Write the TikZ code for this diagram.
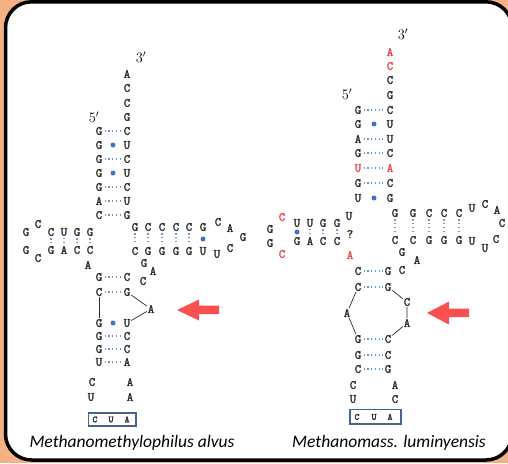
\documentclass[tikz,border=0pt]{standalone}
\usepackage{fontspec}
\newfontfamily\labfont{Carlito}
\newfontfamily\ntfont{Latin Modern Mono}[FakeBold=2]
\usetikzlibrary{calc}
\definecolor{bgorange}{RGB}{244,177,131}
\definecolor{ntgray}{RGB}{45,45,45}
\definecolor{ntred}{RGB}{235,70,80}
\definecolor{pairblue}{RGB}{100,155,215}
\definecolor{wobblue}{RGB}{68,114,196}
\definecolor{boxblue}{RGB}{70,100,140}
\definecolor{arrowred}{RGB}{250,80,80}
\tikzset{
  nt/.style={inner sep=0.8pt, text=ntgray, font=\ntfont\fontsize{12.5}{12.5}\selectfont},
  ntr/.style={nt, text=ntred},
  pd/.style={draw=pairblue, line width=1.2pt, dash pattern=on 1.1pt off 2.6pt, shorten <=1.5pt, shorten >=1.5pt},
  wb/.style={fill=wobblue},
  loopline/.style={draw=ntgray, line width=0.7pt},
  acbox/.style={draw=boxblue, line width=1.1pt},
  boxnt/.style={inner sep=0pt, text=ntgray, font=\ntfont\fontsize{9.5}{10}\selectfont},
  endlab/.style={inner sep=0pt, font=\fontsize{14}{14}\selectfont},
  spec/.style={inner sep=0pt, font=\labfont\itshape\fontsize{17.5}{18}\selectfont},
  redarrow/.style={fill=arrowred}
}
\newcommand\nuc[4]{\node[nt] (#1) at (#2,#3) {#4};}
\newcommand\nucr[4]{\node[ntr] (#1) at (#2,#3) {#4};}
\newcommand\pdot[2]{\draw[pd] (#1) -- (#2);}
\newcommand\pwob[2]{\fill[wb] ($(#1)!0.5!(#2)$) circle (2.5);}
\begin{document}
\begin{tikzpicture}[x=1pt,y=-1pt]
\useasboundingbox (0,0) rectangle (508,463);
\clip (0,0) rectangle (508,463);
\fill[bgorange] (0,0) rectangle (508,463);
\draw[line width=3.5pt, fill=white, rounded corners=26pt] (5.5,1.8) rectangle (512,460);

% ================= LEFT =================
\node[endlab] (L3p) at (141,57) {$3'$};
\node[endlab] (L5p) at (94,117) {$5'$};
\nuc{La1}{127}{74}{A}
\nuc{La2}{127}{88}{C}
\nuc{La3}{127}{103}{C}
\nuc{La4}{127}{117}{G}
% acceptor stem
\nuc{Ll1}{99}{131}{G} \nuc{Lr1}{127}{131}{C}
\nuc{Ll2}{99}{145}{G} \nuc{Lr2}{127}{145}{U}
\nuc{Ll3}{99}{159}{G} \nuc{Lr3}{127}{159}{C}
\nuc{Ll4}{99}{173}{G} \nuc{Lr4}{127}{173}{U}
\nuc{Ll5}{99}{187}{G} \nuc{Lr5}{127}{187}{C}
\nuc{Ll6}{99}{201}{A} \nuc{Lr6}{127}{201}{U}
\nuc{Ll7}{99}{215}{C} \nuc{Lr7}{127}{215}{G}
\pdot{Ll1}{Lr1} \pwob{Ll2}{Lr2} \pdot{Ll3}{Lr3} \pwob{Ll4}{Lr4}
\pdot{Ll5}{Lr5} \pdot{Ll6}{Lr6} \pdot{Ll7}{Lr7}
% D arm
\nuc{Ld1}{26}{232}{G} \nuc{Ld2}{38}{224}{C} \nuc{Ld3}{51}{232}{C}
\nuc{Ld4}{64}{232}{U} \nuc{Ld5}{77}{232}{G} \nuc{Ld6}{90}{232}{G}
\nuc{Le1}{26}{250}{G} \nuc{Le2}{38}{258}{C} \nuc{Le3}{51}{250}{G}
\nuc{Le4}{64}{250}{A} \nuc{Le5}{77}{250}{C} \nuc{Le6}{90}{250}{C}
\nuc{Le7}{88}{265}{A}
\pdot{Ld3}{Le3} \pdot{Ld4}{Le4} \pdot{Ld5}{Le5} \pdot{Ld6}{Le6}
% T arm
\nuc{Lt1}{135}{227}{G} \nuc{Lt2}{148}{227}{C} \nuc{Lt3}{162}{227}{C}
\nuc{Lt4}{176}{227}{C} \nuc{Lt5}{189}{227}{C} \nuc{Lt6}{203}{227}{G}
\nuc{Lt7}{218}{222}{C} \nuc{Lt8}{230}{228}{A} \nuc{Lt9}{243}{237}{G}
\nuc{Lu1}{135}{251}{C} \nuc{Lu2}{148}{251}{G} \nuc{Lu3}{162}{251}{G}
\nuc{Lu4}{176}{251}{G} \nuc{Lu5}{189}{251}{G} \nuc{Lu6}{203}{251}{U}
\nuc{Lu7}{217}{254}{U} \nuc{Lu8}{230}{248}{C}
\pdot{Lt1}{Lu1} \pdot{Lt2}{Lu2} \pdot{Lt3}{Lu3} \pdot{Lt4}{Lu4} \pdot{Lt5}{Lu5}
\pwob{Lt6}{Lu6}
% variable loop
\nuc{Lv1}{144}{263}{G} \nuc{Lv2}{153}{271}{A} \nuc{Lv3}{143}{281}{C}
% anticodon stem
\nuc{Lc1}{99}{277}{G} \nuc{Lk1}{127}{277}{C}
\nuc{Lc2}{99}{292}{C} \nuc{Lk2}{127}{292}{G}
\pdot{Lc1}{Lk1} \pdot{Lc2}{Lk2}
\nuc{Lbul}{151}{309}{A}
\nuc{Lc3}{99}{323}{G} \nuc{Lk3}{127}{323}{U}
\nuc{Lc4}{99}{336}{G} \nuc{Lk4}{127}{336}{C}
\nuc{Lc5}{99}{349}{G} \nuc{Lk5}{127}{349}{C}
\nuc{Lc6}{99}{362}{U} \nuc{Lk6}{127}{362}{A}
\pwob{Lc3}{Lk3} \pdot{Lc4}{Lk4} \pdot{Lc5}{Lk5} \pdot{Lc6}{Lk6}
\draw[loopline] (Lc2) -- (Lc3);
\draw[loopline] (Lk2) -- (Lbul) -- (Lk3);
\nuc{Lo1}{92}{382}{C} \nuc{Lo2}{130}{382}{A}
\nuc{Lo3}{91}{397}{U} \nuc{Lo4}{130}{397}{A}
\draw[acbox] (88.5,413) rectangle (136,426);
\node[boxnt] (Lac1) at (95,419.5) {C};
\node[boxnt] (Lac2) at (111,419.5) {U};
\node[boxnt] (Lac3) at (127,419.5) {A};
\fill[redarrow] (177,310) -- (199,299.5) -- (199,305.5) -- (219,305.5) -- (219,314) -- (199,314) -- (199,320.5) -- cycle;
\node[spec] (Lname) at (132,443) {Methanomethylophilus alvus};

% ================= RIGHT =================
\node[endlab] (R3p) at (403,34) {$3'$};
\node[endlab] (R5p) at (347,94) {$5'$};
\nucr{Ra1}{390}{52}{A}
\nucr{Ra2}{390}{66}{C}
\nuc{Ra3}{390}{80}{C}
\nuc{Ra4}{390}{95}{G}
\nuc{Rl1}{358}{110}{G} \nuc{Rr1}{390}{110}{C}
\nuc{Rl2}{358}{124}{G} \nuc{Rr2}{390}{124}{U}
\nuc{Rl3}{358}{139}{A} \nuc{Rr3}{390}{139}{U}
\nuc{Rl4}{358}{153}{G} \nuc{Rr4}{390}{153}{C}
\nucr{Rl5}{358}{168}{U} \nucr{Rr5}{390}{168}{A}
\nuc{Rl6}{358}{183}{G} \nuc{Rr6}{390}{183}{C}
\nuc{Rl7}{358}{198}{U} \nuc{Rr7}{390}{198}{G}
\pdot{Rl1}{Rr1} \pwob{Rl2}{Rr2} \pdot{Rl3}{Rr3} \pdot{Rl4}{Rr4}
\pdot{Rl5}{Rr5} \pdot{Rl6}{Rr6} \pwob{Rl7}{Rr7}
% D arm
\nuc{Rd1}{270}{229}{G} \nucr{Rd2}{282}{217}{C} \nuc{Rd3}{297}{223}{U}
\nuc{Rd4}{310}{223}{U} \nuc{Rd5}{323}{223}{G} \nuc{Rd6}{337}{223}{G}
\nuc{Rd7}{349}{216}{U}
\nuc{Re1}{270}{243}{G} \nucr{Re2}{282}{254}{C} \nuc{Re3}{297}{241}{G}
\nuc{Re4}{310}{241}{A} \nuc{Re5}{323}{241}{C} \nuc{Re6}{337}{241}{C}
\nucr{Re7}{350}{255}{A}
\nuc{Rq}{350}{234}{?}
\pwob{Rd3}{Re3} \pdot{Rd4}{Re4} \pdot{Rd5}{Re5} \pdot{Rd6}{Re6}
% T arm
\nuc{Rt1}{395}{213}{G} \nuc{Rt2}{413}{213}{G} \nuc{Rt3}{429}{213}{C}
\nuc{Rt4}{444}{213}{C} \nuc{Rt5}{459}{213}{C}
\nuc{Rt6}{472}{208}{U} \nuc{Rt7}{485}{204}{C} \nuc{Rt8}{497}{210}{A}
\nuc{Rt9}{502}{223}{C}
\nuc{Ru1}{395}{240}{C} \nuc{Ru2}{413}{240}{C} \nuc{Ru3}{429}{240}{G}
\nuc{Ru4}{444}{240}{G} \nuc{Ru5}{459}{240}{G}
\nuc{Ru6}{472}{241}{U} \nuc{Ru7}{485}{248}{U} \nuc{Ru8}{496}{239}{C}
\pdot{Rt1}{Ru1} \pdot{Rt2}{Ru2} \pdot{Rt3}{Ru3} \pdot{Rt4}{Ru4} \pdot{Rt5}{Ru5}
% variable loop
\nuc{Rv1}{402}{252}{G} \nuc{Rv2}{417}{260}{A} \nuc{Rv3}{402}{270}{C}
% anticodon stem
\nuc{Rc1}{358}{271}{C} \nuc{Rk1}{388}{271}{G}
\nuc{Rc2}{358}{287}{C} \nuc{Rk2}{388}{287}{G}
\pdot{Rc1}{Rk1} \pdot{Rc2}{Rk2}
\nuc{Rbl}{347}{313}{A}
\nuc{Rbr1}{407}{302}{C}
\nuc{Rbr2}{407}{323}{A}
\nuc{Rc3}{358}{339}{G} \nuc{Rk3}{388}{339}{C}
\nuc{Rc4}{358}{355}{G} \nuc{Rk4}{388}{355}{C}
\nuc{Rc5}{358}{369}{C} \nuc{Rk5}{388}{369}{G}
\pdot{Rc3}{Rk3} \pdot{Rc4}{Rk4} \pdot{Rc5}{Rk5}
\draw[loopline] (Rc2) -- (Rbl) -- (Rc3);
\draw[loopline] (Rk2) -- (Rbr1) -- (Rbr2) -- (Rk3);
\nuc{Ro1}{353}{385}{C} \nuc{Ro2}{395}{385}{A}
\nuc{Ro3}{353}{399}{U} \nuc{Ro4}{395}{399}{C}
\draw[acbox] (350,409.5) rectangle (401,424);
\node[boxnt] (Rac1) at (357,417) {C};
\node[boxnt] (Rac2) at (374,417) {U};
\node[boxnt] (Rac3) at (390,417) {A};
\fill[redarrow] (427,313) -- (449,301.5) -- (449,308.5) -- (469,308.5) -- (469,317) -- (449,317) -- (449,324.5) -- cycle;
\node[spec] (Rname) at (389,443) {Methanomass. luminyensis};
\end{tikzpicture}
\end{document}
